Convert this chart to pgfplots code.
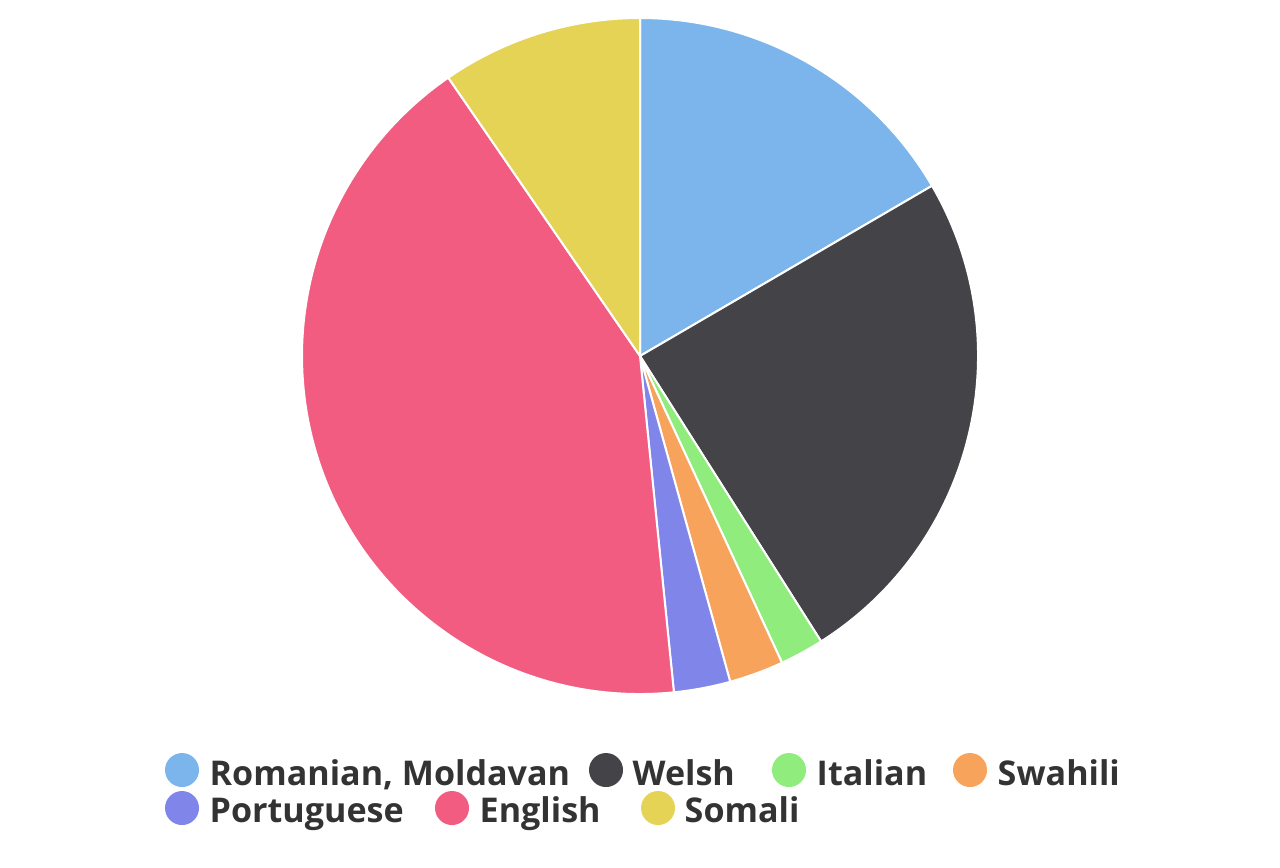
\documentclass[border=0pt]{standalone}
\usepackage{fontspec}
\setmainfont{Open Sans}
\usepackage{pgfplots}
\pgfplotsset{compat=1.18}

\definecolor{hc1}{HTML}{7CB5EC}
\definecolor{hc2}{HTML}{434348}
\definecolor{hc3}{HTML}{90ED7D}
\definecolor{hc4}{HTML}{F7A35C}
\definecolor{hc5}{HTML}{8085E9}
\definecolor{hc6}{HTML}{F15C80}
\definecolor{hc7}{HTML}{E4D354}
\definecolor{legtext}{HTML}{333333}

\tikzset{
  legtxt/.style={anchor=base west, inner sep=0pt, text=legtext,
    font=\fontsize{9.7}{12}\selectfont\bfseries},
}

\begin{document}
\begin{tikzpicture}
\begin{axis}[
  scale only axis,
  width=12.8cm, height=8.67cm,
  xmin=0, xmax=1280, ymin=0, ymax=867,
  hide axis, clip=false,
]
\path (axis cs:0,0) rectangle (axis cs:1280,867);

% shares in percent, clockwise from the top
\def\cum{0}
\pgfplotsforeachungrouped \v/\c in {16.6/hc1, 24.4/hc2, 2.1/hc3, 2.6/hc4, 2.7/hc5, 42.0/hc6, 9.6/hc7}{%
  \pgfmathsetmacro\a{90-3.6*\cum}%
  \pgfmathsetmacro\cum{\cum+\v}%
  \pgfmathsetmacro\b{90-3.6*\cum}%
  \edef\next{\noexpand\fill[\c, draw=white, line width=0.2mm, line join=round]
    (axis cs:640,511) -- ([shift={(\a:3.38cm)}]axis cs:640,511)
    arc[start angle=\a, end angle=\b, radius=3.38cm] -- cycle;}%
  \next
}

% legend
\fill[hc1] (axis cs:182,97) circle[radius=0.17cm];
\node[legtxt] at (axis cs:209,82) {Romanian, Moldavan};
\fill[hc2] (axis cs:606,97) circle[radius=0.17cm];
\node[legtxt] at (axis cs:632,82) {Welsh};
\fill[hc3] (axis cs:789,97) circle[radius=0.17cm];
\node[legtxt] at (axis cs:816,82) {Italian};
\fill[hc4] (axis cs:970,97) circle[radius=0.17cm];
\node[legtxt] at (axis cs:997,82) {Swahili};
\fill[hc5] (axis cs:182,59) circle[radius=0.17cm];
\node[legtxt] at (axis cs:209,45) {Portuguese};
\fill[hc6] (axis cs:452,59) circle[radius=0.17cm];
\node[legtxt] at (axis cs:479,45) {English};
\fill[hc7] (axis cs:658,59) circle[radius=0.17cm];
\node[legtxt] at (axis cs:684,45) {Somali};
\end{axis}
\end{tikzpicture}
\end{document}
